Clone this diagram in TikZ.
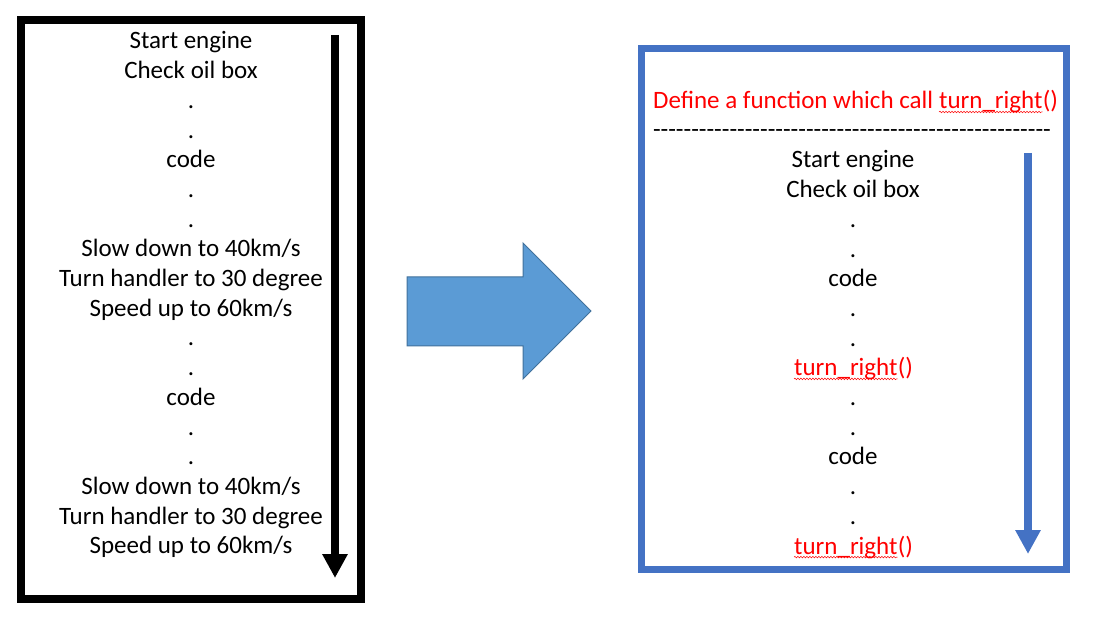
\documentclass[tikz,border=0pt]{standalone}
\usepackage{fontspec}
\setmainfont{Carlito}
\usetikzlibrary{arrows.meta, positioning, decorations.pathmorphing}
\definecolor{boxblue}{HTML}{4472C4}
\definecolor{bigfill}{HTML}{5B9BD5}
\definecolor{bigline}{HTML}{41719C}

\begin{document}
\begin{tikzpicture}[x=1pt, y=-1pt,
    txt/.style={anchor=base, inner sep=0pt, font=\fontsize{25}{29.7}\selectfont},
    redtxt/.style={txt, text=red},
    frame/.style={draw, line width=8pt, inner sep=0pt},
    flow/.style={line width=8pt, -{Triangle[width=24pt, length=24pt]}},
    squig/.style={red, line width=0.5pt, decorate, decoration={snake, amplitude=0.8pt, segment length=3pt}}
]
    \useasboundingbox (0,0) rectangle (1101,617);

    % Frames
    \node[frame, minimum width=340pt, minimum height=579pt] (before) at (191,309.5) {};
    \node[frame, draw=boxblue, line width=7pt, minimum width=425pt, minimum height=520pt] (after) at (853.5,309) {};

    % Left listing
    \foreach \txt [count=\i from 0] in {Start engine, Check oil box, ., ., code, ., .,
        Slow down to 40km/s, Turn handler to 30 degree, Speed up to 60km/s, ., ., code, ., .,
        Slow down to 40km/s, Turn handler to 30 degree, Speed up to 60km/s}
        \node[txt] (l\i) at (191, 49+29.7*\i) {\txt};

    % Right listing
    \node[redtxt, anchor=base west] (title) at (653,109) {Define a function which call};
    \node[redtxt, anchor=base west, xshift=5.6pt] (tfun) at (title.base east) {turn\_right};
    \node[redtxt, anchor=base west] (tfunp) at (tfun.base east) {()};
    \node[txt, anchor=center] (sep) at (852,134) {\foreach \k in {1,...,52}{-}};
    \foreach \txt/\i in {Start engine/0, Check oil box/1, ./2, ./3, code/4, ./5, ./6,
        ./8, ./9, code/10, ./11, ./12}
        \node[txt] (r\i) at (853, 168+29.7*\i) {\txt};
    \node[redtxt, anchor=base west] (r7) at (794, 168+29.7*7) {turn\_right};
    \node[redtxt, anchor=base west] (r7p) at (r7.base east) {()};
    \node[redtxt, anchor=base west] (r13) at (794, 168+29.7*13) {turn\_right};
    \node[redtxt, anchor=base west] (r13p) at (r13.base east) {()};

    % Spelling marks
    \draw[squig] ([yshift=-3pt]tfun.base west) -- ([yshift=-3pt]tfun.base east);
    \draw[squig] ([yshift=-3pt]r7.base west) -- ([yshift=-3pt]r7.base east);
    \draw[squig] ([yshift=-3pt]r13.base west) -- ([yshift=-3pt]r13.base east);

    % Flow arrows
    \coordinate (ltop) at (335,35);
    \coordinate (lend) at (335,578);
    \draw[flow] (ltop) -- (lend);
    \coordinate (rtop) at (1028,153);
    \coordinate (rend) at (1028,554);
    \draw[flow, boxblue] (rtop) -- (rend);

    % Block arrow
    \draw[fill=bigfill, draw=bigline, line width=1pt]
        (407,277) -- (523,277) -- (523,243) -- (591,311) -- (523,379) -- (523,346) -- (407,346) -- cycle;
\end{tikzpicture}
\end{document}
